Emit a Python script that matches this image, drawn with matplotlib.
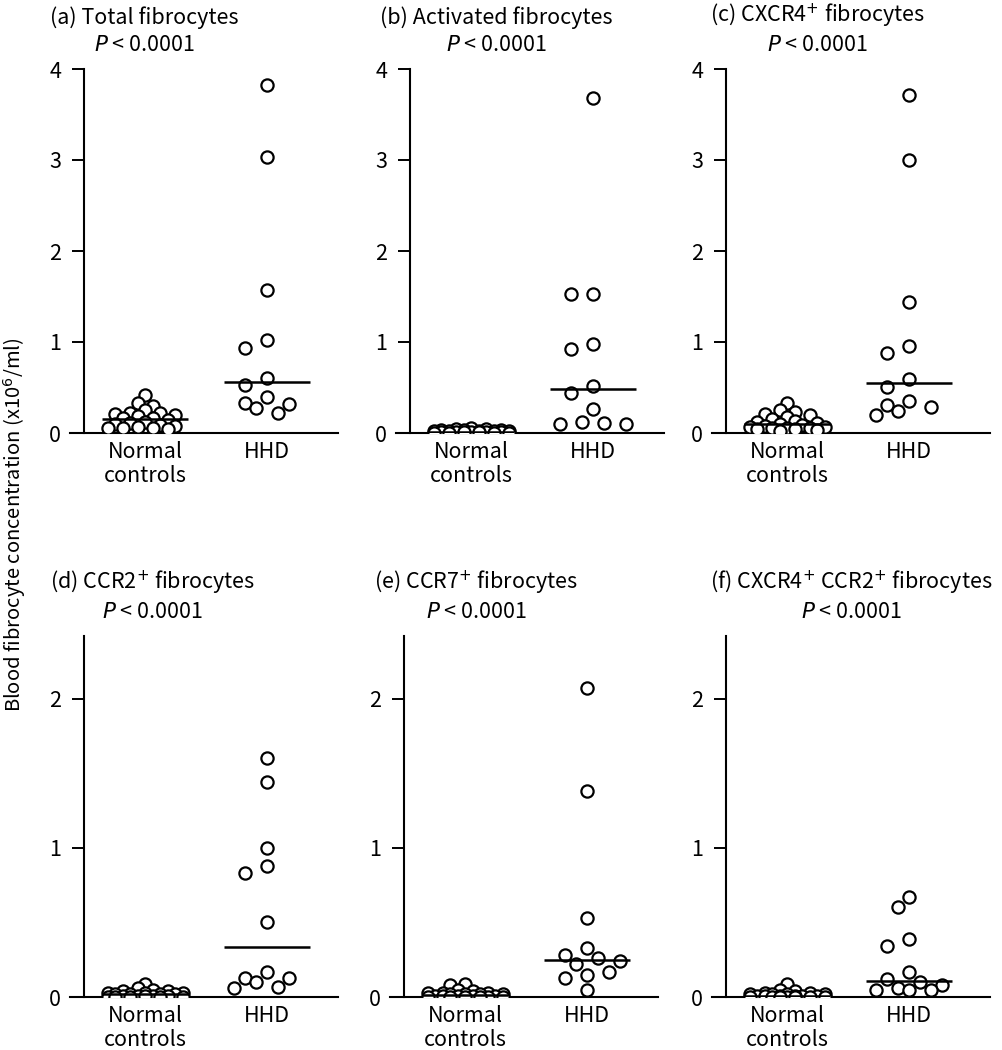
import numpy as np
import matplotlib
matplotlib.use("Agg")
import matplotlib.pyplot as plt

plt.rcParams['font.family'] = ['Noto Sans CJK JP', 'DejaVu Sans']

# --- data (x10^6 cells / ml) ---
groups = ["Normal\ncontrols", "HHD"]

titles = ["(a) Total fibrocytes",
          "(b) Activated fibrocytes",
          "(c) CXCR4$^{+}$ fibrocytes",
          "(d) CCR2$^{+}$ fibrocytes",
          "(e) CCR7$^{+}$ fibrocytes",
          "(f) CXCR4$^{+}$ CCR2$^{+}$ fibrocytes"]
p_text = "$P$ < 0.0001"

ctrl_a = [0.42, 0.33, 0.30, 0.25, 0.22, 0.22, 0.21, 0.20, 0.19, 0.17, 0.16,
          0.14, 0.12, 0.11, 0.10, 0.09, 0.08, 0.07, 0.06, 0.05, 0.05, 0.04]
hhd_a = [3.82, 3.03, 1.57, 1.02, 0.93, 0.60, 0.53, 0.40, 0.33, 0.32, 0.27, 0.22]

ctrl_b = [0.05, 0.04, 0.04, 0.03, 0.03, 0.03, 0.02, 0.02, 0.02, 0.02, 0.02,
          0.01, 0.01, 0.01, 0.01, 0.01, 0.01, 0.01, 0.00, 0.00, 0.00, 0.00]
hhd_b = [3.68, 1.53, 1.53, 0.98, 0.92, 0.52, 0.44, 0.26, 0.12, 0.11, 0.10, 0.10]

ctrl_c = [0.33, 0.25, 0.23, 0.21, 0.20, 0.18, 0.15, 0.13, 0.12, 0.11, 0.10,
          0.09, 0.08, 0.07, 0.07, 0.06, 0.05, 0.05, 0.04, 0.04, 0.03, 0.02]
hhd_c = [3.71, 3.00, 1.44, 0.96, 0.88, 0.59, 0.51, 0.35, 0.31, 0.29, 0.24, 0.20]

ctrl_d = [0.09, 0.06, 0.05, 0.04, 0.04, 0.03, 0.03, 0.03, 0.02, 0.02, 0.02,
          0.02, 0.01, 0.01, 0.01, 0.01, 0.01, 0.00, 0.00, 0.00, 0.00, 0.00]
hhd_d = [1.60, 1.44, 1.00, 0.88, 0.83, 0.50, 0.17, 0.13, 0.13, 0.10, 0.07, 0.06]

ctrl_e = [0.09, 0.08, 0.05, 0.04, 0.03, 0.03, 0.03, 0.02, 0.02, 0.02, 0.02,
          0.01, 0.01, 0.01, 0.01, 0.01, 0.00, 0.00, 0.00, 0.00, 0.00, 0.00]
hhd_e = [2.07, 1.38, 0.53, 0.33, 0.28, 0.26, 0.24, 0.22, 0.17, 0.15, 0.13, 0.05]

ctrl_f = [0.09, 0.05, 0.04, 0.03, 0.03, 0.02, 0.02, 0.02, 0.02, 0.01, 0.01,
          0.01, 0.01, 0.01, 0.01, 0.00, 0.00, 0.00, 0.00, 0.00, 0.00, 0.00]
hhd_f = [0.67, 0.60, 0.39, 0.34, 0.17, 0.12, 0.10, 0.08, 0.06, 0.05, 0.05, 0.05]

panels = [(ctrl_a, hhd_a), (ctrl_b, hhd_b), (ctrl_c, hhd_c),
          (ctrl_d, hhd_d), (ctrl_e, hhd_e), (ctrl_f, hhd_f)]
ytop = [4, 4, 4, 2.42, 2.42, 2.42]
yticks = [[0, 1, 2, 3, 4]] * 3 + [[0, 1, 2]] * 3


def swarm(ypx, dmin, step, maxw):
    """greedy beeswarm: horizontal pixel offsets for points at ypx"""
    cands = [0.0]
    k = 1
    while k * step <= maxw:
        cands += [-k * step, k * step]
        k += 1
    placed, out = [], []
    for y in ypx:
        best, bestd = 0.0, -1
        for c in cands:
            d = min((np.hypot(c - px, y - py) for px, py in placed), default=np.inf)
            if d >= dmin:
                best = c
                break
            if d > bestd:
                bestd, best = d, c
        placed.append((best, y))
        out.append(best)
    return np.array(out)


W, H = 1002, 1050
fig = plt.figure(figsize=(W / 100, H / 100), dpi=100)

lefts = [70, 396, 712, 70, 390, 712]
widths = [268, 268, 278, 268, 268, 278]
rows = [(433, 69), (433, 69), (433, 69), (997, 636), (997, 636), (997, 636)]
title_dx = [-20, -16, -2, -20, -16, -2]
fs = 15.5

for i, (ctrl, hhd) in enumerate(panels):
    bot, top = rows[i]
    width = widths[i]
    xmax = 0.385 + width / 122
    ax = fig.add_axes([lefts[i] / W, 1 - bot / H, width / W, (bot - top) / H])
    ax.set_xlim(0.385, xmax)
    ax.set_ylim(0, ytop[i])
    ax.patch.set_visible(False)

    ppx = 122.0  # pixels per x unit
    for j, vals in enumerate([ctrl, hhd]):
        vals = np.array(vals)
        ypx = ax.transData.transform(np.c_[np.zeros_like(vals), vals])[:, 1]
        if j == 0:
            off = swarm(ypx, dmin=8.5, step=7.5, maxw=38)
        else:
            off = swarm(ypx, dmin=14, step=11, maxw=34)
        ax.plot(j + 1 + off / ppx, vals, 'o', ms=8.8, mfc='white', mec='black',
                mew=1.6, zorder=3)
        med = np.median(vals)
        ax.plot([j + 1 - 0.35, j + 1 + 0.35], [med, med], color='black',
                lw=1.8, zorder=4, solid_capstyle='butt')

    for s in ['top', 'right']:
        ax.spines[s].set_visible(False)
    ax.spines['left'].set_position(('data', 0.5))
    ax.spines['left'].set_linewidth(1.5)
    ax.spines['bottom'].set_linewidth(1.5)
    ax.set_yticks(yticks[i])
    ax.set_yticklabels([str(t) for t in yticks[i]], fontsize=fs)
    ax.tick_params(axis='y', direction='out', length=8.5, width=1.4, pad=8)
    ax.set_xticks([1, 2])
    ax.set_xticklabels(groups, fontsize=fs, linespacing=1.1)
    ax.tick_params(axis='x', length=0, pad=6)

    ax.annotate(titles[i] + "\n" + p_text, xy=(0, 1), xycoords='axes fraction',
                xytext=(title_dx[i], 13), textcoords='offset pixels',
                ha='left', va='bottom', multialignment='center',
                fontsize=fs, linespacing=1.3)

fig.text(15 / W, 0.5, "Blood fibrocyte concentration (x10$^{6}$/ml)",
         rotation=90, ha='center', va='center', fontsize=fs - 1)

fig.savefig("out.png", dpi=100)
